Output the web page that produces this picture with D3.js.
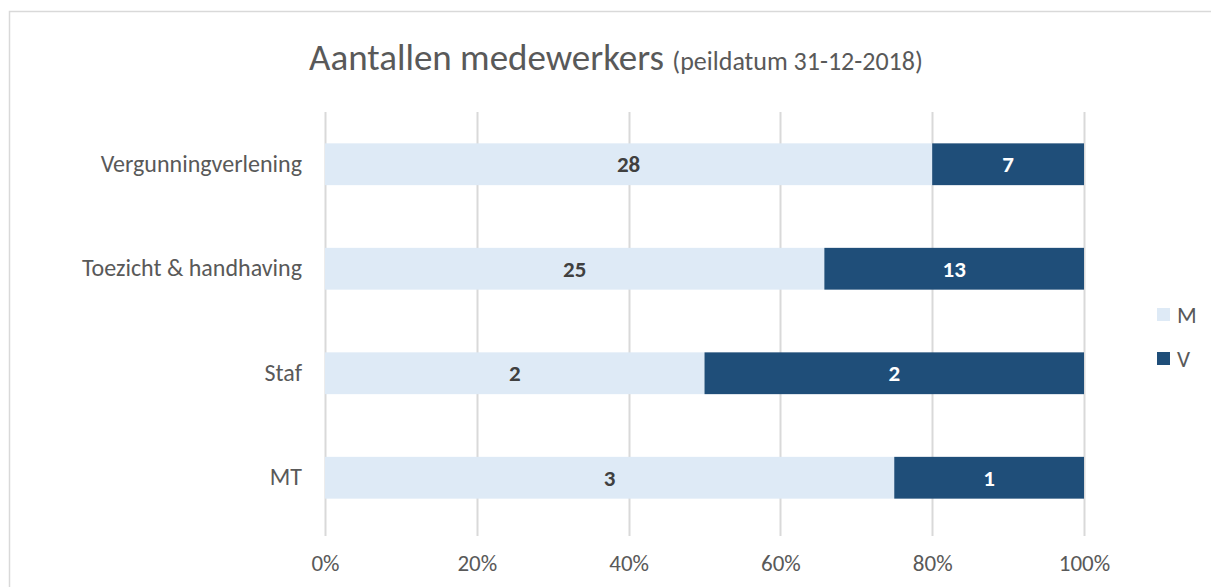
<!DOCTYPE html>
<html>
<head>
<meta charset="utf-8">
<script src="https://cdn.jsdelivr.net/npm/d3@7"></script>
<style>
  body { margin: 0; background: #fff; }
  svg { font-family: Carlito, Lato, "Open Sans", sans-serif; }
</style>
</head>
<body>
<div id="chart"></div>
<script>
// data
const categories = ['Vergunningverlening', 'Toezicht & handhaving', 'Staf', 'MT'];
const seriesM = [28, 25, 2, 3];
const seriesV = [7, 13, 2, 1];
const seriesNames = ['M', 'V'];
const tickValues = [0, 0.2, 0.4, 0.6, 0.8, 1];

const colors = { M: '#deeaf6', V: '#1f4e79' };
const font = 'Carlito, Lato, "Open Sans", sans-serif';

const W = 1211, H = 587;
const margin = { top: 112, right: 127, bottom: 57, left: 325 };
const width = W - margin.left - margin.right;
const height = H - margin.top - margin.bottom;

const svg = d3.select('#chart')
  .append('svg')
  .attr('width', W)
  .attr('height', H);

// chart border
svg.append('rect')
  .attr('x', 9.5).attr('y', 11.5)
  .attr('width', W).attr('height', H)
  .attr('fill', 'none')
  .attr('stroke', '#d9d9d9')
  .attr('stroke-width', 1.5);

// title
const title = svg.append('text')
  .attr('x', 309).attr('y', 70)
  .attr('fill', '#595959');
title.append('tspan').style('font-size', '37px').style('font-weight', 300).text('Aantallen medewerkers ');
title.append('tspan').style('font-size', '26px').text('(peildatum 31-12-2018)');

const g = svg.append('g')
  .attr('transform', `translate(${margin.left}, ${margin.top})`);

const rows = categories.map((c, i) => {
  const total = seriesM[i] + seriesV[i];
  return { cat: c, M: seriesM[i] / total, V: seriesV[i] / total, Mn: seriesM[i], Vn: seriesV[i] };
});

const x = d3.scaleLinear().domain([0, 1]).range([0, width]);
const y = d3.scaleBand()
  .domain(categories)
  .range([0, height])
  .paddingInner(0.6)
  .paddingOuter(0.3);

// gridlines
g.selectAll('line.grid')
  .data(tickValues)
  .enter()
  .append('line')
  .attr('x1', d => Math.round(x(d)) + 0.5)
  .attr('x2', d => Math.round(x(d)) + 0.5)
  .attr('y1', 0)
  .attr('y2', height + 6)
  .attr('stroke', '#d9d9d9')
  .attr('stroke-width', 2);

// x axis labels
const xAxis = g.append('g')
  .attr('transform', `translate(0, ${height})`)
  .call(d3.axisBottom(x).tickValues(tickValues).tickFormat(d3.format('.0%')).tickSize(0).tickPadding(25));
xAxis.select('.domain').remove();
xAxis.selectAll('text')
  .attr('fill', '#595959')
  .style('font-size', '23px')
  .style('font-family', font);

// y axis labels
const yAxis = g.append('g')
  .call(d3.axisLeft(y).tickSize(0).tickPadding(23));
yAxis.select('.domain').remove();
yAxis.selectAll('text')
  .attr('fill', '#595959')
  .style('font-size', '24px')
  .style('font-family', font);

// stacked bars
const stack = d3.stack().keys(seriesNames)(rows);
const layers = g.selectAll('g.layer')
  .data(stack)
  .enter()
  .append('g')
  .attr('fill', d => colors[d.key]);

layers.selectAll('rect')
  .data(d => d.map(p => ({ p, key: d.key })))
  .enter()
  .append('rect')
  .attr('x', d => x(d.p[0]))
  .attr('y', d => y(d.p.data.cat))
  .attr('width', d => x(d.p[1]) - x(d.p[0]))
  .attr('height', y.bandwidth());

layers.selectAll('text')
  .data(d => d.map(p => ({ p, key: d.key })))
  .enter()
  .append('text')
  .attr('x', d => (x(d.p[0]) + x(d.p[1])) / 2)
  .attr('y', d => y(d.p.data.cat) + y.bandwidth() / 2)
  .attr('dy', '0.35em')
  .attr('text-anchor', 'middle')
  .attr('fill', d => d.key === 'M' ? '#404040' : '#ffffff')
  .style('font-size', '23px')
  .style('font-weight', 'bold')
  .text(d => d.p.data[d.key + 'n']);

// legend
const legend = svg.append('g')
  .attr('transform', 'translate(1157, 308)');
const li = legend.selectAll('g')
  .data(seriesNames)
  .enter()
  .append('g')
  .attr('transform', (d, i) => `translate(0, ${i * 44})`);
li.append('rect')
  .attr('width', 13).attr('height', 13)
  .attr('fill', d => colors[d]);
li.append('text')
  .attr('x', 20).attr('y', 7)
  .attr('dy', '0.35em')
  .attr('fill', '#595959')
  .style('font-size', '23px')
  .text(d => d);
</script>
</body>
</html>
